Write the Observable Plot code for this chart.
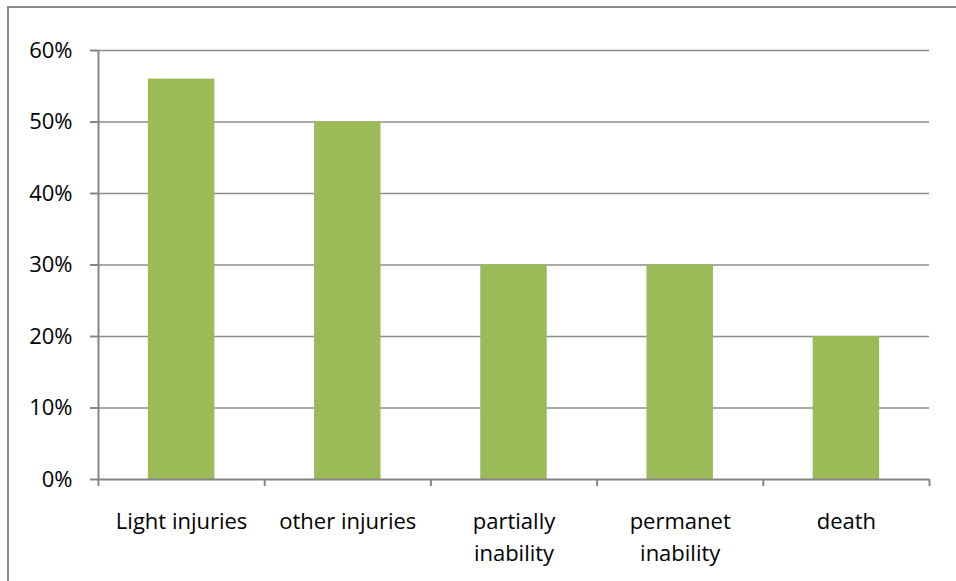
<!DOCTYPE html>
<html><head><meta charset="utf-8">
<script src="https://cdn.jsdelivr.net/npm/d3@7"></script>
<script src="https://cdn.jsdelivr.net/npm/@observablehq/plot@0.6"></script>
<style>
body{margin:0;background:#fff;}
#wrap{position:relative;width:956px;height:581px;overflow:hidden;}
#border{position:absolute;left:7px;top:6px;width:1000px;height:600px;border:2px solid #8a8a8a;box-sizing:border-box;}
</style></head>
<body><div id="wrap"><div id="border"></div></div>
<script>
const categories = ["Light injuries", "other injuries", "partially\ninability", "permanet\ninability", "death"];
const values = [0.56, 0.50, 0.30, 0.30, 0.20];
const yTicks = [0, 0.1, 0.2, 0.3, 0.4, 0.5, 0.6];

const data = categories.map((c, i) => ({cat: c, idx: i, v: values[i]}));
const bounds = d3.range(categories.length + 1);

const chart = Plot.plot({
  width: 956, height: 581,
  marginLeft: 98, marginRight: 27, marginTop: 50, marginBottom: 102,
  style: {fontFamily: "Open Sans, sans-serif", background: "transparent", overflow: "visible"},
  x: {type: "linear", domain: [0, categories.length], axis: null},
  y: {domain: [0, 0.6], axis: null},
  marks: [
    Plot.ruleY(yTicks.filter(t => t > 0), {stroke: "#8c8c8c", strokeWidth: 1.3}),
    Plot.rectY(data, {x1: d => d.idx + 0.3, x2: d => d.idx + 0.7, y: "v", fill: "#9bbb59"}),
    Plot.ruleY(yTicks, {x1: 0, x2: 0, insetLeft: -8, stroke: "#868686", strokeWidth: 2}),
    Plot.ruleX(bounds, {y1: 0, y2: 0, insetBottom: -7, stroke: "#868686", strokeWidth: 2}),
    Plot.ruleX([0], {stroke: "#868686", strokeWidth: 2}),
    Plot.ruleY([0], {stroke: "#868686", strokeWidth: 2}),
    Plot.text(yTicks, {x: 0, y: d => d, text: d => Math.round(d * 100) + "%", textAnchor: "end", dx: -26, fontSize: 22, fill: "#000"}),
    Plot.text(data, {x: d => d.idx + 0.5, y: 0, text: "cat", dy: 27, lineAnchor: "top", lineHeight: 1.45, fontSize: 22, fill: "#000"})
  ]
});
document.getElementById("wrap").appendChild(chart);
</script>
</body></html>
